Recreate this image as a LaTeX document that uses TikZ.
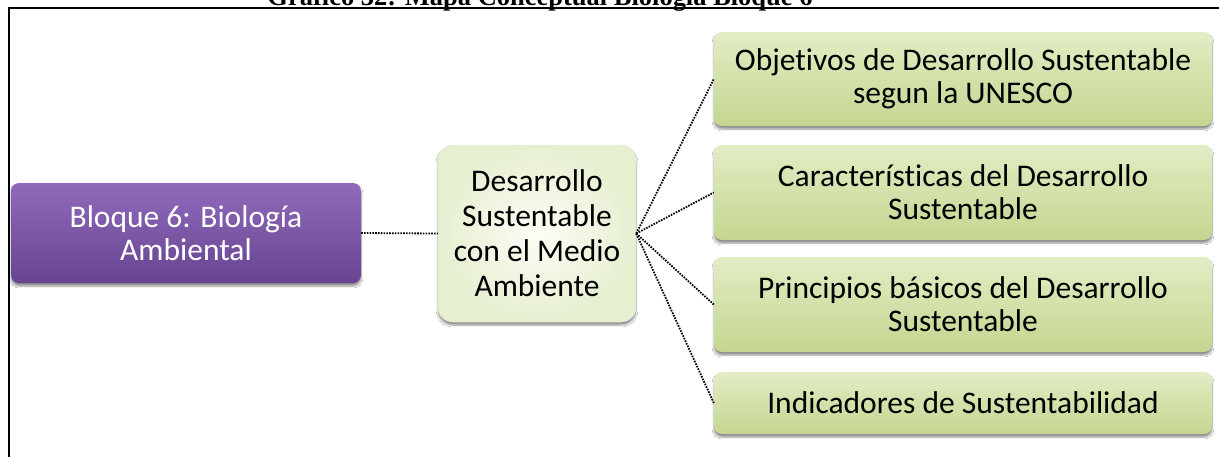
\documentclass[tikz,border=0pt]{standalone}
\usepackage{fontspec}
\setmainfont{Carlito}[Ligatures=NoCommon]
\newfontfamily\titlefont{Liberation Serif}
\usetikzlibrary{shadows.blur}
\definecolor{purpletop}{HTML}{9169BC}
\definecolor{purplebot}{HTML}{664590}
\definecolor{greentop}{HTML}{E2EDC4}
\definecolor{greenmid}{HTML}{D4E4A9}
\definecolor{greenbot}{HTML}{C4D690}
\definecolor{midinner}{HTML}{FCFDF6}
\definecolor{midouter}{HTML}{E6EFD0}
\begin{document}
\begin{tikzpicture}[x=1pt,y=-1pt,
  box/.style={rounded corners=8pt, font=\fontsize{31.5}{33}\selectfont, align=center, inner sep=0pt,
    blur shadow={shadow xshift=0pt, shadow yshift=-3pt, shadow blur steps=6, shadow opacity=45}},
  purplebox/.style={box, text=white, top color=purpletop, bottom color=purplebot,
    minimum width=350pt, minimum height=100pt},
  midbox/.style={box, font=\fontsize{31.5}{35}\selectfont, rounded corners=15pt, inner color=midinner, outer color=midouter,
    draw=midouter!90!black!60, line width=0.5pt, minimum width=198pt, minimum height=177pt},
  greenbox/.style={box, top color=greentop, middle color=greenmid, bottom color=greenbot,
    minimum width=498pt},
  conn/.style={line width=1.8pt, dash pattern=on 1.6pt off 1.2pt, black}
]
\useasboundingbox (0,0) rectangle (1219,456);
\clip (0,0) rectangle (1219,456);
\fill[white] (0,0) rectangle (1219,456);
\draw[line width=1.3pt] (9,8) rectangle (1280,500);
\node[anchor=base, font=\titlefont\bfseries] (title) at (540,5.5)
  {\resizebox{545pt}{!}{Gráfico 32: Mapa Conceptual Biología Bloque 6}};

\node[purplebox] (bloque) at (186,233) {Bloque 6: Biología\\Ambiental};
\node[midbox] (mid) at (537,233.5) {Desarrollo\\Sustentable\\con el Medio\\Ambiente};
\node[greenbox, minimum height=94pt] (b1) at (963,79) {Objetivos de Desarrollo Sustentable\\segun la UNESCO};
\node[greenbox, minimum height=95pt] (b2) at (963,192.5) {Características del Desarrollo\\Sustentable};
\node[greenbox, minimum height=95pt] (b3) at (963,304.5) {Principios básicos del Desarrollo\\Sustentable};
\node[greenbox, minimum height=62pt] (b4) at (963,403) {Indicadores de Sustentabilidad};

\draw[conn] (bloque.east) -- (mid.west);
\draw[conn] (mid.east) -- (b1.west);
\draw[conn] (mid.east) -- (b2.west);
\draw[conn] (mid.east) -- (b3.west);
\draw[conn] (mid.east) -- (b4.west);
\end{tikzpicture}
\end{document}
